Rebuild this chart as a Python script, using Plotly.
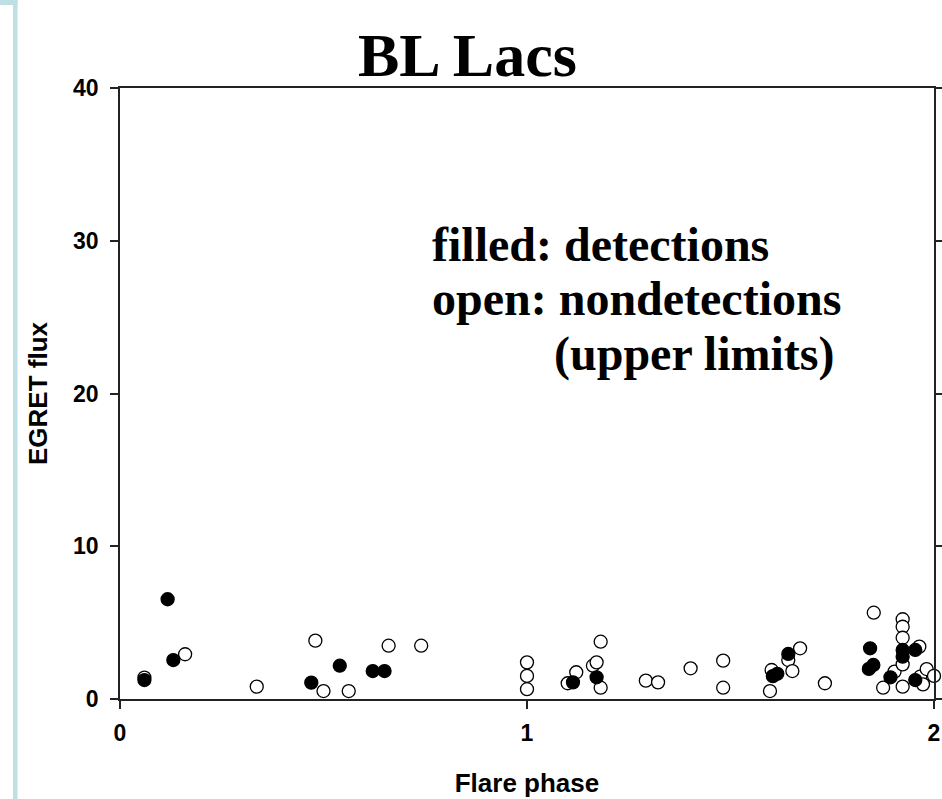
import plotly.graph_objects as go

# ---- data ----
open_phase = [0.060, 0.160, 0.336, 0.480, 0.500, 0.562, 0.660, 0.740,
              1.000, 1.000, 1.000, 1.100, 1.121, 1.162, 1.171, 1.181, 1.181,
              1.292, 1.322, 1.402, 1.482, 1.482,
              1.597, 1.601, 1.642, 1.652, 1.671, 1.732,
              1.852, 1.875, 1.903, 1.923, 1.923, 1.923, 1.923, 1.923,
              1.964, 1.966, 1.973, 1.982, 2.000]
open_flux = [1.40, 2.93, 0.81, 3.82, 0.52, 0.52, 3.49, 3.49,
             2.40, 1.51, 0.64, 1.03, 1.75, 2.18, 2.40, 3.75, 0.74,
             1.20, 1.09, 2.01, 2.51, 0.74,
             0.52, 1.90, 2.55, 1.83, 3.32, 1.03,
             5.65, 0.74, 1.79, 5.22, 4.73, 4.01, 2.27, 0.81,
             3.43, 1.46, 0.96, 1.96, 1.51]

det_phase = [0.060, 0.117, 0.131, 0.470, 0.540, 0.621, 0.650,
             1.113, 1.171, 1.604, 1.615, 1.642,
             1.843, 1.840, 1.851, 1.893, 1.923, 1.923, 1.954, 1.954]
det_flux = [1.24, 6.53, 2.55, 1.07, 2.18, 1.83, 1.83,
            1.09, 1.42, 1.50, 1.65, 2.95,
            3.32, 1.97, 2.23, 1.42, 3.21, 2.77, 3.21, 1.24]

x_ticks = [0, 1, 2]
y_ticks = [0, 10, 20, 30, 40]

# ---- layout geometry ----
W, H = 942, 799
L, R, T, B = 120, 8, 88, 100
PW, PH = W - L - R, H - T - B


def px(x):
    return (x - L) / PW


def py(y):
    return (H - B - y) / PH


fig = go.Figure()
fig.add_trace(go.Scatter(
    x=open_phase, y=open_flux, mode="markers", showlegend=False,
    marker=dict(size=13, color="white", line=dict(color="black", width=1.3)),
    cliponaxis=False))
fig.add_trace(go.Scatter(
    x=det_phase, y=det_flux, mode="markers", showlegend=False,
    marker=dict(size=13, color="black", line=dict(color="black", width=1.3)),
    cliponaxis=False))

axis_font = dict(family="Liberation Sans, Arial", size=23, color="black",
                 weight="bold")
title_font = dict(family="Liberation Sans, Arial", size=26, color="black",
                  weight="bold")

fig.update_xaxes(
    range=[0, 2], tickvals=x_ticks, ticktext=[str(v) for v in x_ticks],
    showgrid=False, zeroline=False, showline=True, linecolor="#222",
    linewidth=1.5, mirror=True, ticks="outside", ticklen=8, tickwidth=1.5,
    tickcolor="#222", tickfont=axis_font, ticklabelstandoff=5,
    title=dict(text="Flare phase", font=title_font, standoff=28))
fig.update_yaxes(
    range=[0, 40], tickvals=y_ticks, ticktext=[str(v) for v in y_ticks],
    showgrid=False, zeroline=False, showline=True, linecolor="#222",
    linewidth=1.5, mirror="ticks", ticks="outside", ticklen=8, tickwidth=1.5,
    tickcolor="#222", tickfont=axis_font, ticklabelstandoff=7,
    title=dict(text="EGRET flux", font=title_font, standoff=18))

serif = dict(family="Liberation Serif, Times New Roman", color="black",
             weight="bold")
annots = [
    dict(text="BL Lacs", x=px(467), y=py(55), xanchor="center",
         yanchor="middle", font=dict(size=62, **serif)),
    dict(text="filled: detections", x=px(430), y=py(244),
         xanchor="left", yanchor="middle", font=dict(size=48, **serif)),
    dict(text="open: nondetections", x=px(430), y=py(298),
         xanchor="left", yanchor="middle", font=dict(size=48, **serif)),
    dict(text="(upper limits)", x=px(552), y=py(354),
         xanchor="left", yanchor="middle", font=dict(size=48, **serif)),
]
for a in annots:
    fig.add_annotation(xref="paper", yref="paper", showarrow=False, **a)

bar = "#BEE0E4"
fig.add_shape(type="rect", xref="paper", yref="paper", x0=px(13), x1=px(17.5),
              y0=py(H), y1=py(0), fillcolor=bar, line=dict(width=0), layer="below")
fig.add_shape(type="rect", xref="paper", yref="paper", x0=px(0), x1=px(17.5),
              y0=py(5), y1=py(0), fillcolor=bar, line=dict(width=0), layer="below")

fig.update_layout(
    width=W, height=H, margin=dict(l=L, r=R, t=T, b=B, autoexpand=False),
    paper_bgcolor="white", plot_bgcolor="white")

fig.write_html("out.html")
